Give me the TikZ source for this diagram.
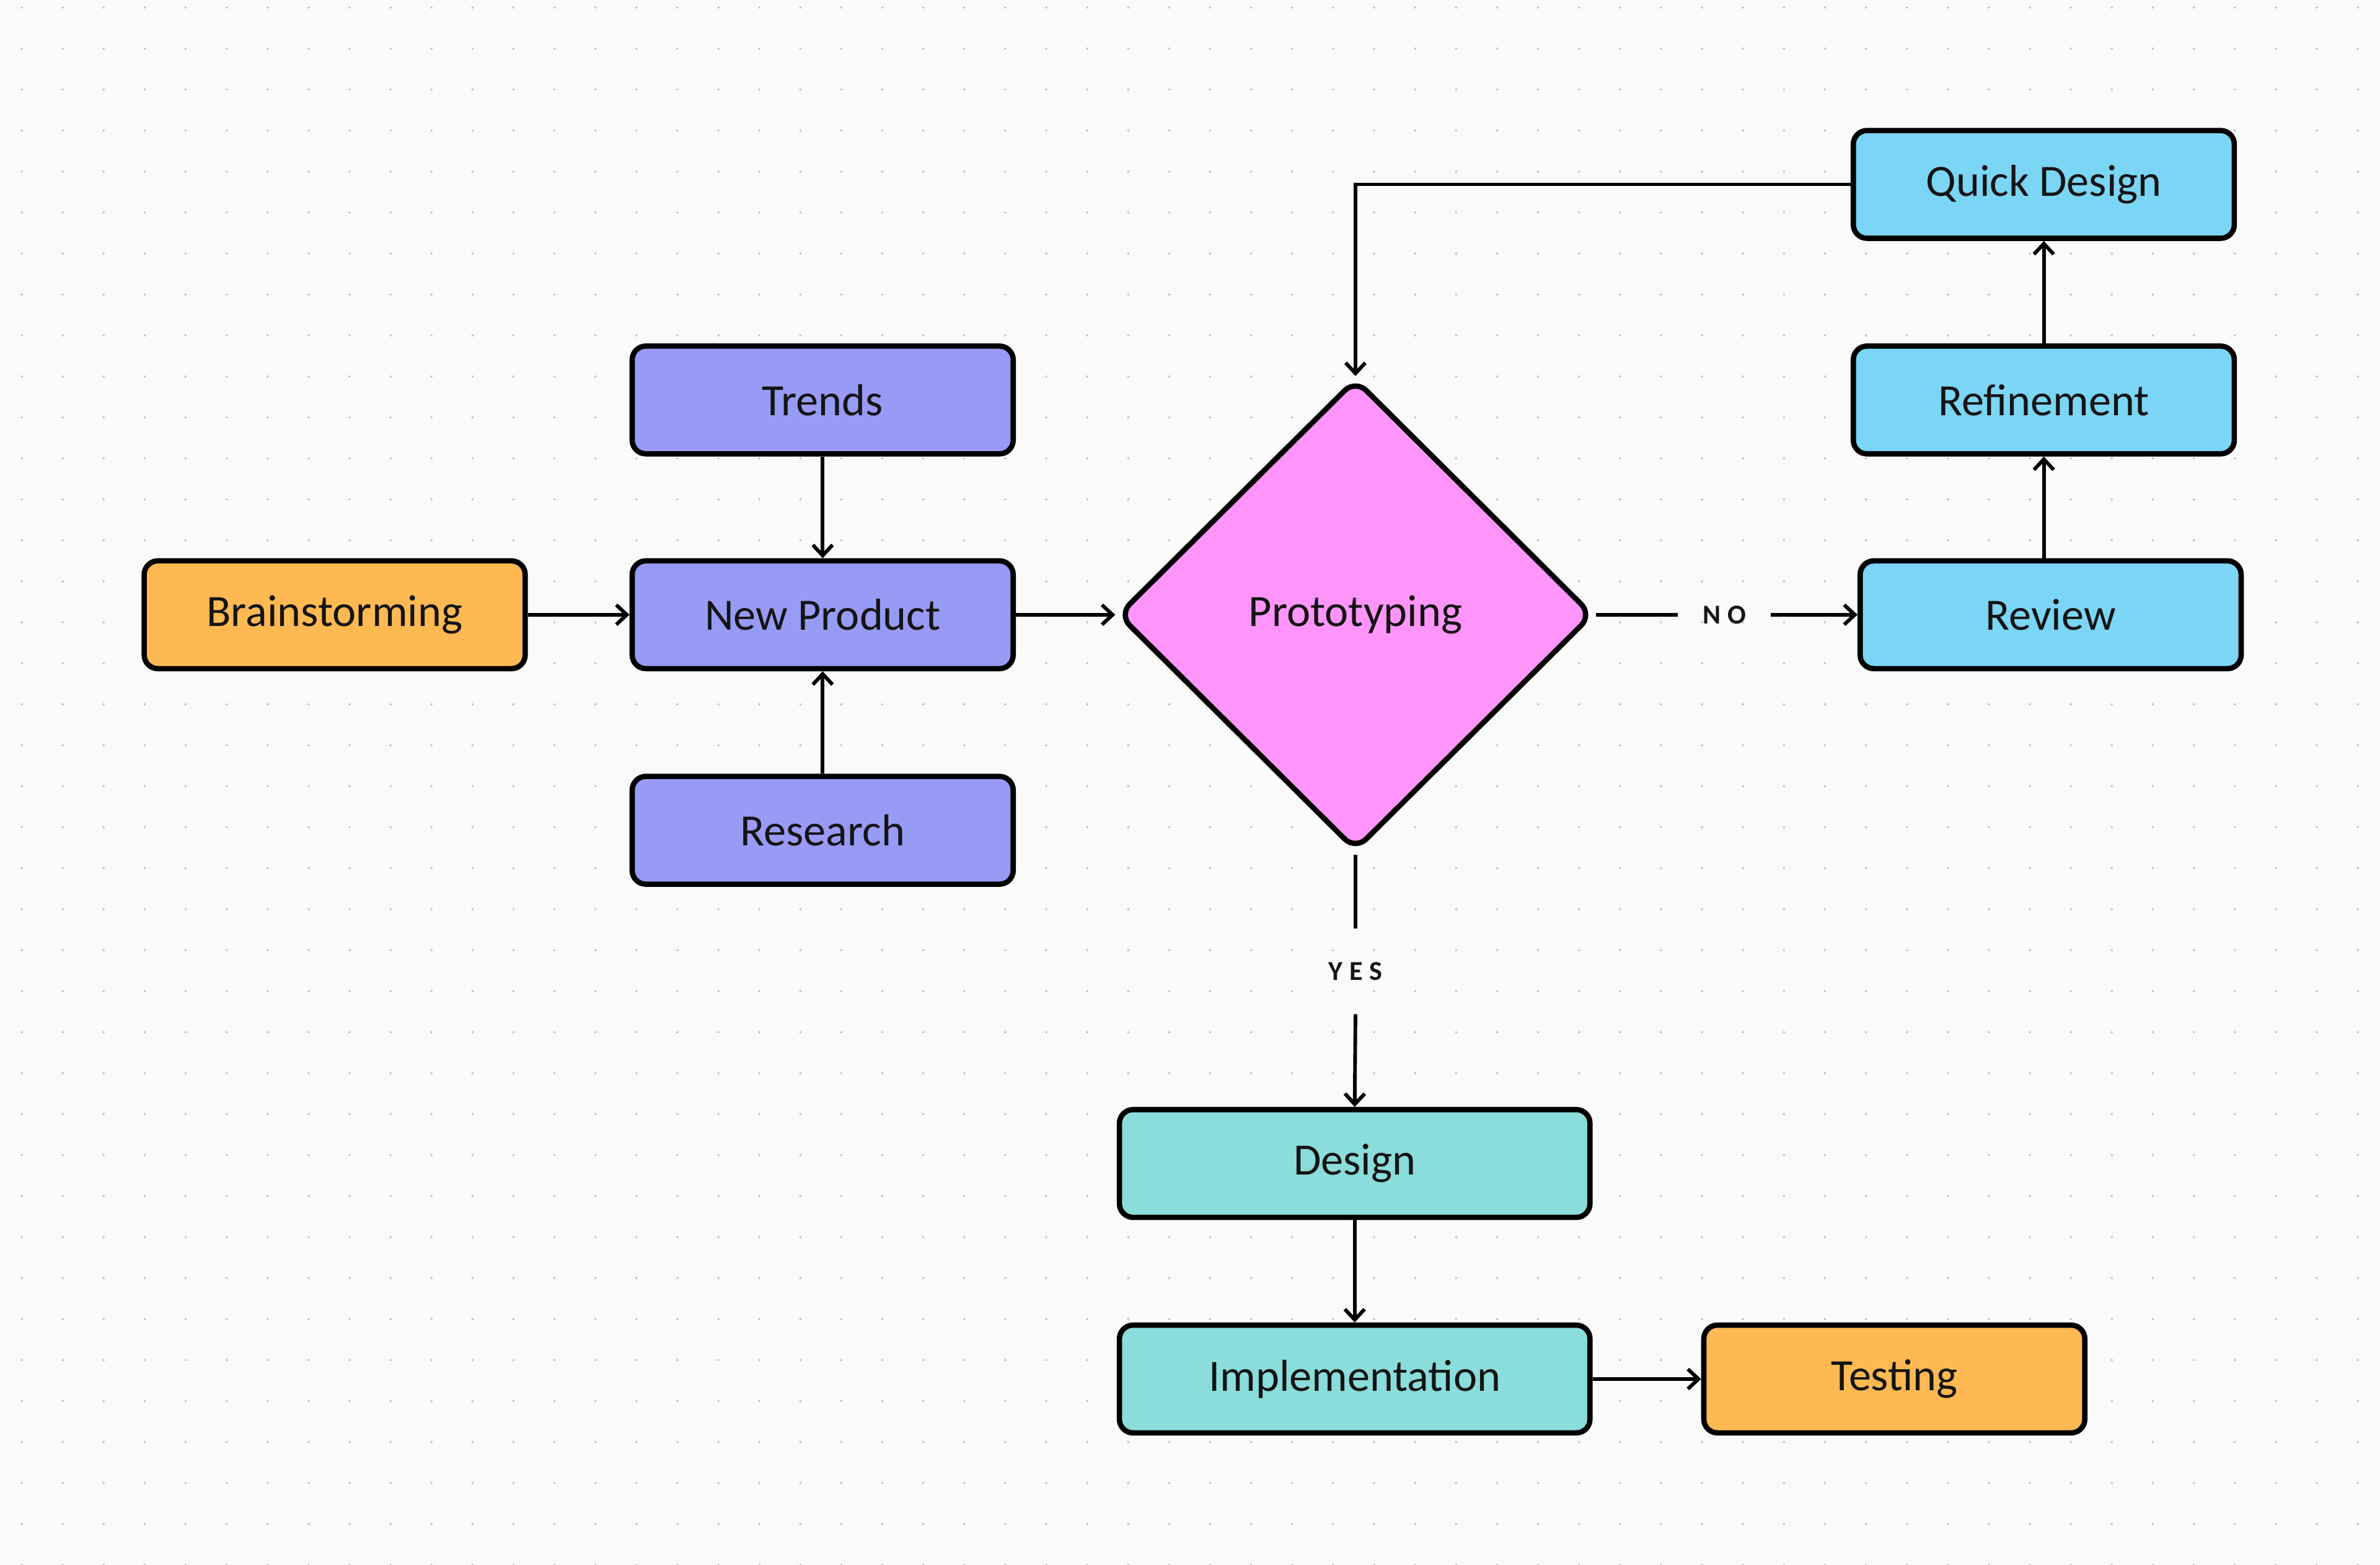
\documentclass[tikz,border=0pt]{standalone}
\usepackage{fontspec}
\setmainfont{Carlito}
\newfontfamily\lblfont[LetterSpace=25]{Carlito}
\usetikzlibrary{shapes.geometric,arrows.meta}
\definecolor{bgc}{HTML}{FAFAFA}
\definecolor{dotc}{HTML}{BDBDBD}
\definecolor{orangec}{HTML}{FFB952}
\definecolor{purplec}{HTML}{979BF5}
\definecolor{pinkc}{HTML}{FF95FA}
\definecolor{bluec}{HTML}{7BD5F5}
\definecolor{tealc}{HTML}{8ADDDA}
\definecolor{txtc}{HTML}{141414}
\tikzset{
  box/.style={draw=black, line width=3.5pt, rounded corners=9pt,
    minimum width=251pt, minimum height=71pt, inner sep=0pt,
    font=\fontsize{29.5}{34}\selectfont, text=txtc},
  widebox/.style={box, minimum width=310pt},
  conn/.style={draw=black, line width=2.4pt},
  arr/.style={conn, -{Straight Barb[length=7pt,width=13pt,line width=2.4pt]}},
  lbl/.style={font=\lblfont\bfseries\fontsize{18}{20}\selectfont, text=txtc, inner sep=0pt}
}
\begin{document}
\begin{tikzpicture}[x=1pt,y=-1pt]
\fill[bgc] (0,0) rectangle (1568,1031);
\useasboundingbox (0,0) rectangle (1568,1031);
\foreach \i in {0,...,57}{
  \foreach \j in {0,...,38}{
    \fill[dotc] ({14.3+27*\i},{5+27*\j}) circle (0.8pt);
  }
}
% nodes
\node[box, fill=orangec] (brain) at (220.5,405) {Brainstorming};
\node[box, fill=purplec] (trends) at (542,263.5) {Trends};
\node[box, fill=purplec] (newp) at (542,405) {New Product};
\node[box, fill=purplec] (research) at (542,547) {Research};
\node[diamond, draw=black, line width=3.5pt, rounded corners=10pt, fill=pinkc,
      minimum width=313pt, minimum height=311pt, inner sep=0pt,
      font=\fontsize{29.5}{34}\selectfont, text=txtc] (proto) at (893,405) {Prototyping};
\node[box, fill=bluec] (quick) at (1346.5,121.5) {Quick Design};
\node[box, fill=bluec] (refine) at (1346.5,263.5) {Refinement};
\node[box, fill=bluec] (review) at (1351,405) {Review};
\node[widebox, fill=tealc] (design) at (892.5,766.5) {Design};
\node[widebox, fill=tealc] (impl) at (892.5,908.5) {Implementation};
\node[box, fill=orangec] (test) at (1248,908.5) {Testing};
\node[lbl, inner xsep=16pt] (no) at (1136,405) {NO};
\node[lbl, inner ysep=22pt] (yes) at (893,640) {YES};
% connectors
\draw[arr] (brain.east) -- (newp.west);
\draw[arr] (trends.south) -- (newp.north);
\draw[arr] (research.north) -- (newp.south);
\draw[arr] (newp.east) -- (proto.west);
\draw[conn] (proto.east) -- (no.west);
\draw[arr] (no.east) -- (review.west);
\draw[arr] (refine.south |- review.north) -- (refine.south);
\draw[arr] (refine.north) -- (quick.south);
\draw[arr] (quick.west) -| (proto.north);
\draw[conn, shorten <=1pt] (proto.south) -- (yes.north);
\draw[arr] (yes.south) -- (design.north);
\draw[arr] (design.south) -- (impl.north);
\draw[arr] (impl.east) -- (test.west);
\end{tikzpicture}
\end{document}
